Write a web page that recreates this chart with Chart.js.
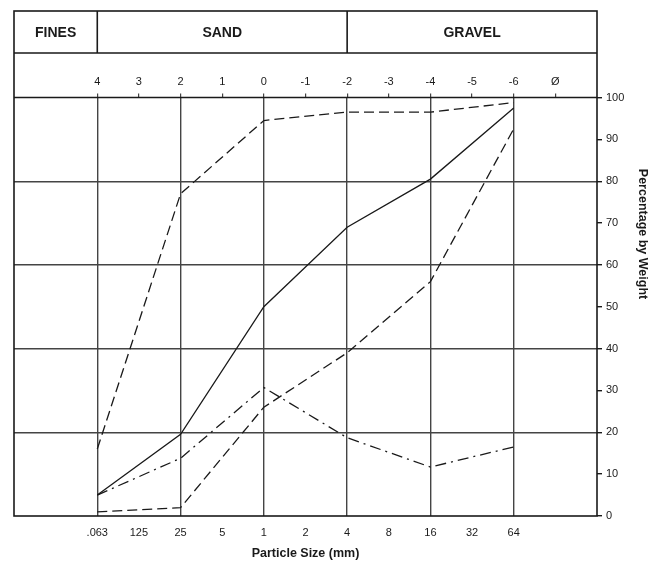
<!DOCTYPE html>
<html>
<head>
<meta charset="utf-8">
<script src="https://cdn.jsdelivr.net/npm/chart.js@4"></script>
<style>
html,body{margin:0;padding:0;background:#fff;}
canvas{display:block;}
</style>
</head>
<body>
<canvas id="c" width="658" height="562"></canvas>
<script>
// phi positions of the measured points
const phi = [4, 2, 0, -2, -4, -6];
// cumulative percentage by weight for each curve
const solidCurve = [5, 19.5, 50, 69, 80.5, 97.5];
const upperDashed = [16, 77, 94.5, 96.5, 96.5, 98.8];
const lowerDashed = [1, 2, 26, 39, 56, 92.5];
const dashDotCurve = [5, 13.8, 30.7, 18.7, 11.7, 16.5];
// tick labels
const phiTicks = [4, 3, 2, 1, 0, -1, -2, -3, -4, -5, -6];
const phiLabels = ['4', '3', '2', '1', '0', '-1', '-2', '-3', '-4', '-5', '-6'];
const mmLabels = ['.063', '125', '25', '5', '1', '2', '4', '8', '16', '32', '64'];
const phiSymbol = 'Ø';
const classNames = ['FINES', 'SAND', 'GRAVEL'];
const classBounds = [6, 4, -2, -8]; // phi limits of each class column
const xTitle = 'Particle Size (mm)';
const yTitle = 'Percentage by Weight';

const INK = '#1a1a1a';
const GRID = '#444';
const FONT = "'Liberation Sans', Arial, sans-serif";

function toPts(vals) { return phi.map((p, i) => ({x: p, y: vals[i]})); }

const majorPhi = [4, 2, 0, -2, -4, -6];

const framePlugin = {
  id: 'frame',
  afterDraw(chart) {
    const ctx = chart.ctx;
    const a = chart.chartArea;
    const xs = chart.scales.x;
    const headTop = a.top - 86.5;
    const headMid = a.top - 44.5;
    ctx.save();
    ctx.strokeStyle = INK;
    ctx.lineWidth = 1.6;
    // outer frame of plot + header
    ctx.strokeRect(a.left, headTop, a.right - a.left, a.bottom - headTop);
    // header divider
    ctx.beginPath();
    ctx.moveTo(a.left, headMid); ctx.lineTo(a.right, headMid);
    ctx.moveTo(a.left, a.top); ctx.lineTo(a.right, a.top);
    for (let i = 1; i < classBounds.length - 1; i++) {
      const px = xs.getPixelForValue(classBounds[i]);
      ctx.moveTo(px, headTop); ctx.lineTo(px, headMid);
    }
    ctx.stroke();
    // class names
    ctx.fillStyle = INK;
    ctx.font = 'bold 14px ' + FONT;
    ctx.textAlign = 'center';
    ctx.textBaseline = 'middle';
    for (let i = 0; i < classNames.length; i++) {
      const x1 = xs.getPixelForValue(classBounds[i]);
      const x2 = xs.getPixelForValue(classBounds[i + 1]);
      ctx.fillText(classNames[i], (x1 + x2) / 2, (headTop + headMid) / 2 + 1);
    }
    // right axis title
    ctx.font = 'bold 12.5px ' + FONT;
    ctx.translate(642, 234);
    ctx.rotate(Math.PI / 2);
    ctx.fillText(yTitle, 0, 0);
    ctx.restore();
  }
};

new Chart(document.getElementById('c'), {
  type: 'line',
  data: {
    datasets: [
      {data: toPts(solidCurve), borderColor: INK, borderWidth: 1.3, pointRadius: 0, fill: false},
      {data: toPts(upperDashed), borderColor: INK, borderWidth: 1.3, borderDash: [10, 5], pointRadius: 0, fill: false},
      {data: toPts(lowerDashed), borderColor: INK, borderWidth: 1.3, borderDash: [10, 5], pointRadius: 0, fill: false},
      {data: toPts(dashDotCurve), borderColor: INK, borderWidth: 1.3, borderDash: [11, 5, 2, 5], pointRadius: 0, fill: false}
    ]
  },
  options: {
    responsive: false,
    animation: false,
    layout: {padding: {top: 10.5, left: 14, right: 0, bottom: 0}},
    plugins: {legend: {display: false}, tooltip: {enabled: false}},
    scales: {
      x: {
        type: 'linear', position: 'bottom', min: -8, max: 6, reverse: true,
        afterBuildTicks(s) { s.ticks = phiTicks.map(v => ({value: v})); },
        afterFit(s) { s.height = 46; },
        ticks: {
          autoSkip: false, maxRotation: 0, padding: 10, color: INK,
          font: {family: FONT, size: 11},
          callback(v) { const i = phiTicks.indexOf(v); return i >= 0 ? mmLabels[i] : ''; }
        },
        grid: {
          drawTicks: false,
          color(c) { return majorPhi.includes(c.tick && c.tick.value) ? GRID : 'rgba(0,0,0,0)'; },
          lineWidth: 1.4
        },
        border: {display: false},
        title: {display: true, text: xTitle, color: INK, font: {family: FONT, size: 12.5, weight: 'bold'}, padding: {top: 0, bottom: 1}}
      },
      xTop: {
        type: 'linear', position: 'top', min: -8, max: 6, reverse: true,
        afterBuildTicks(s) { s.ticks = phiTicks.concat([-7]).map(v => ({value: v})); },
        afterFit(s) { s.height = 87; },
        ticks: {
          autoSkip: false, maxRotation: 0, padding: 5, color: INK,
          font: {family: FONT, size: 11},
          callback(v) { if (v === -7) return phiSymbol; const i = phiTicks.indexOf(v); return i >= 0 ? phiLabels[i] : ''; }
        },
        grid: {drawOnChartArea: false, drawTicks: true, tickLength: 4, tickColor: GRID, lineWidth: 1.2,
          color(c) { return c.tick && c.tick.value === -7 ? 'rgba(0,0,0,0)' : GRID; }},
        border: {display: false}
      },
      y: {
        type: 'linear', position: 'right', min: 0, max: 100,
        afterBuildTicks(s) { const t = []; for (let v = 0; v <= 100; v += 10) t.push({value: v}); s.ticks = t; },
        afterFit(s) { s.width = 61; },
        ticks: {padding: 4, color: INK, font: {family: FONT, size: 11}},
        grid: {
          drawTicks: true, tickLength: 5, tickColor: INK, lineWidth: 1.4,
          color(c) { const v = c.tick && c.tick.value; return (v % 20 === 0 && v > 0 && v < 100) ? GRID : 'rgba(0,0,0,0)'; }
        },
        border: {display: false}
      }
    }
  },
  plugins: [framePlugin]
});
</script>
</body>
</html>
